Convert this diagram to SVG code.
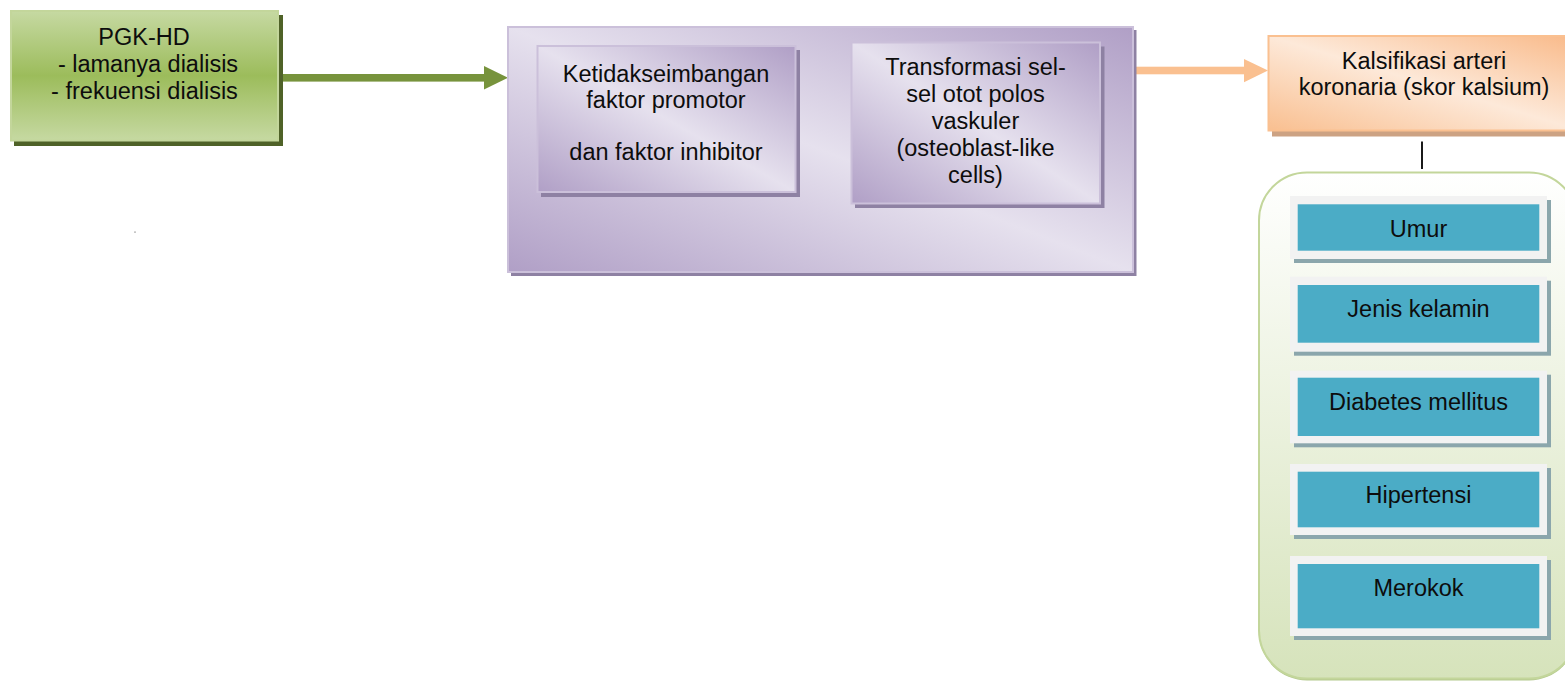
<svg xmlns="http://www.w3.org/2000/svg" width="1565" height="682" viewBox="0 0 1565 682">
  <defs>
    <linearGradient id="gGreen" x1="0" y1="0" x2="0" y2="1">
      <stop offset="0" stop-color="#c6d9a2"/>
      <stop offset="0.5" stop-color="#9cbc5b"/>
      <stop offset="1" stop-color="#c6d9a2"/>
    </linearGradient>
    <linearGradient id="gPurple" x1="1" y1="0" x2="0" y2="1">
      <stop offset="0" stop-color="#b09fc6"/>
      <stop offset="0.5" stop-color="#e6e1ee"/>
      <stop offset="1" stop-color="#b09fc6"/>
    </linearGradient>
    <linearGradient id="gOrange" x1="1" y1="0" x2="0" y2="1">
      <stop offset="0" stop-color="#f9b988"/>
      <stop offset="0.5" stop-color="#fde9d9"/>
      <stop offset="1" stop-color="#f9bf90"/>
    </linearGradient>
    <linearGradient id="gCont" x1="0" y1="0" x2="0" y2="1">
      <stop offset="0" stop-color="#ffffff"/>
      <stop offset="1" stop-color="#d6e3bb"/>
    </linearGradient>
    <style>
      .t { font-family: "Liberation Sans", Arial, sans-serif; font-size: 23.5px; fill: #0d0d0d; text-anchor: middle; }
      .pshadow { fill: #8e81a3; }
      .pbox { fill: url(#gPurple); stroke: #cbc0da; stroke-width: 2; }
      .frame { fill: #f2f2f2; }
      .fshadow { fill: #8ba6ac; }
      .teal { fill: #4bacc6; }
    </style>
  </defs>

  <rect x="134" y="231.5" width="2" height="1.2" fill="#b0b0b0"/>

  <g id="connectors">
    <rect x="281" y="74" width="205" height="7.6" fill="#77933c"/>
    <polygon points="484,66 508,77.8 484,89.5" fill="#77933c"/>
    <polygon points="799,57.5 835,57.5 835,52.5 850,62 835,71.5 835,66.5 799,66.5" fill="#ffffff" stroke="#000000" stroke-width="1.5" stroke-linejoin="miter"/>
    <rect x="1133" y="66.7" width="113" height="7.6" fill="#fac090"/>
    <polygon points="1244,59 1268,70.5 1244,82.3" fill="#fac090"/>
    <line x1="1422" y1="141.5" x2="1422" y2="169" stroke="#000000" stroke-width="1.8"/>
  </g>

  <g id="pgk-hd">
    <rect x="14" y="15" width="269" height="131" fill="#4f6228"/>
    <rect x="11" y="11" width="267" height="129.5" fill="url(#gGreen)" stroke="#c3d69b" stroke-width="2"/>
    <text class="t"><tspan x="144" y="45">PGK-HD</tspan><tspan x="148" y="72">- lamanya dialisis</tspan><tspan x="144.5" y="99">- frekuensi dialisis</tspan></text>
  </g>

  <g id="mekanisme">
    <rect class="pshadow" x="511" y="30" width="625.5" height="246"/>
    <rect class="pbox" x="508" y="27" width="625" height="245"/>
  </g>

  <g id="ketidakseimbangan">
    <rect class="pshadow" x="541" y="50" width="259" height="147"/>
    <rect class="pbox" x="537.5" y="46" width="258" height="146"/>
    <text class="t"><tspan x="666" y="81.7">Ketidakseimbangan</tspan><tspan x="666" y="107.7">faktor promotor</tspan><tspan x="666" y="159.7">dan faktor inhibitor</tspan></text>
  </g>

  <g id="transformasi">
    <rect class="pshadow" x="855" y="46.5" width="249.5" height="161.5"/>
    <rect class="pbox" x="851.5" y="42.5" width="248.5" height="161"/>
    <text class="t"><tspan x="975.5" y="75">Transformasi sel-</tspan><tspan x="975.5" y="101.7">sel otot polos</tspan><tspan x="975.5" y="129">vaskuler</tspan><tspan x="975.5" y="156">(osteoblast-like</tspan><tspan x="975.5" y="183">cells)</tspan></text>
  </g>

  <g id="kalsifikasi">
    <rect x="1272" y="40" width="312" height="96.5" fill="#cca283"/>
    <rect x="1268.5" y="36" width="312" height="94.5" fill="url(#gOrange)" stroke="#fac090" stroke-width="2"/>
    <text class="t"><tspan x="1424" y="69.3">Kalsifikasi arteri</tspan><tspan x="1424" y="95.3">koronaria (skor kalsium)</tspan></text>
  </g>

  <g id="faktor-risiko">
    <rect x="1259" y="175" width="318" height="505.5" rx="48" ry="48" fill="#b4c98d"/>
    <rect x="1259" y="172.5" width="318" height="506" rx="48" ry="48" fill="url(#gCont)" stroke="#c3d69b" stroke-width="2"/>
  </g>

  <g id="umur">
    <rect class="fshadow" x="1294" y="200" width="257" height="63"/>
    <rect class="frame" x="1290" y="196" width="257" height="63"/>
    <rect class="teal" x="1297.7" y="204.3" width="241.6" height="46.4"/>
    <text class="t" x="1418.5" y="237.3">Umur</text>
  </g>

  <g id="jenis-kelamin">
    <rect class="fshadow" x="1294" y="280.7" width="257" height="75"/>
    <rect class="frame" x="1290" y="276.7" width="257" height="75"/>
    <rect class="teal" x="1297.7" y="285" width="241.6" height="57.7"/>
    <text class="t" x="1418.5" y="316.7">Jenis kelamin</text>
  </g>

  <g id="diabetes">
    <rect class="fshadow" x="1294" y="374.7" width="257" height="72.6"/>
    <rect class="frame" x="1290" y="370.7" width="257" height="72.6"/>
    <rect class="teal" x="1297.7" y="377.7" width="241.6" height="58.3"/>
    <text class="t" x="1418.5" y="410">Diabetes mellitus</text>
  </g>

  <g id="hipertensi">
    <rect class="fshadow" x="1294" y="468" width="257" height="71"/>
    <rect class="frame" x="1290" y="464" width="257" height="71"/>
    <rect class="teal" x="1297.7" y="471.7" width="241.6" height="55.6"/>
    <text class="t" x="1418.5" y="503.3">Hipertensi</text>
  </g>

  <g id="merokok">
    <rect class="fshadow" x="1294" y="560" width="257" height="80"/>
    <rect class="frame" x="1290" y="556" width="257" height="80"/>
    <rect class="teal" x="1297.7" y="564" width="241.6" height="64.3"/>
    <text class="t" x="1418.5" y="596">Merokok</text>
  </g>
</svg>
